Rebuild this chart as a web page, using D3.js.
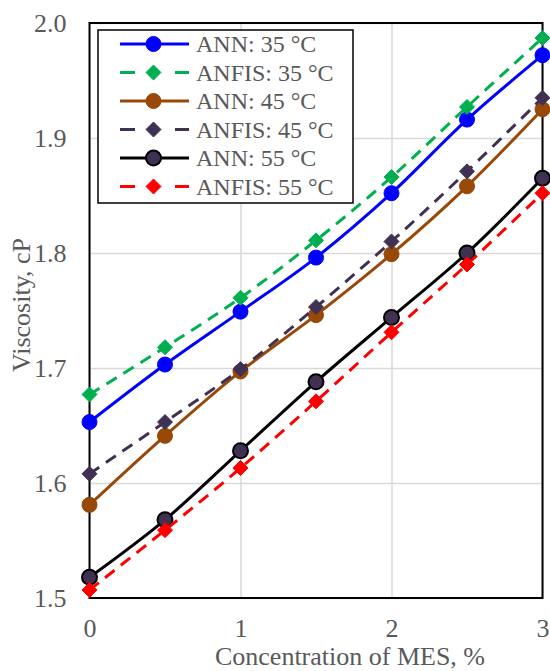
<!DOCTYPE html>
<html>
<head>
<meta charset="utf-8">
<script src="https://cdn.jsdelivr.net/npm/d3@7"></script>
<style>
  body { margin: 0; background: #fff; }
  svg text { font-family: "Liberation Serif", "Times New Roman", serif; fill: #595959; }
</style>
</head>
<body>
<div id="chart"></div>
<script>
// Viscosity vs MES concentration
var concMES = [0, 0.5, 1, 1.5, 2, 2.5, 3];
var ann35 = [1.653, 1.703, 1.749, 1.796, 1.852, 1.916, 1.972];
var anfis35 = [1.677, 1.718, 1.761, 1.811, 1.866, 1.927, 1.987];
var ann45 = [1.581, 1.641, 1.697, 1.746, 1.799, 1.858, 1.925];
var anfis45 = [1.608, 1.653, 1.699, 1.753, 1.810, 1.871, 1.935];
var ann55 = [1.518, 1.568, 1.628, 1.688, 1.744, 1.800, 1.865];
var anfis55 = [1.507, 1.559, 1.613, 1.671, 1.731, 1.790, 1.852];
var seriesNames = ["ANN: 35 °C", "ANFIS: 35 °C", "ANN: 45 °C", "ANFIS: 45 °C", "ANN: 55 °C", "ANFIS: 55 °C"];
var xTicks = [0, 1, 2, 3];
var yTicks = [1.5, 1.6, 1.7, 1.8, 1.9, 2.0];

var width = 550;
var height = 671;
// plot area edges (avoid "top", it is window.top)
var plotLeft = 89.5, plotRight = 542.5, plotTop = 23, plotBottom = 598;

var svg = d3.select("#chart")
  .append("svg")
  .attr("width", width)
  .attr("height", height);

var xScale = d3.scaleLinear().domain([0, 3]).range([plotLeft, plotRight]);
var yScale = d3.scaleLinear().domain([1.5, 2.0]).range([plotBottom, plotTop]);

// Gridlines
svg.append("g")
  .attr("transform", "translate(0," + plotBottom + ")")
  .call(d3.axisBottom(xScale).tickValues(xTicks).tickSize(-(plotBottom - plotTop)).tickFormat(""))
  .call(function(g) {
    g.select(".domain").remove();
    g.selectAll("line").attr("stroke", "#d9d9d9").attr("stroke-width", 1.5);
  });
svg.append("g")
  .attr("transform", "translate(" + plotLeft + ",0)")
  .call(d3.axisLeft(yScale).tickValues(yTicks).tickSize(-(plotRight - plotLeft)).tickFormat(""))
  .call(function(g) {
    g.select(".domain").remove();
    g.selectAll("line").attr("stroke", "#d9d9d9").attr("stroke-width", 1.5);
  });

// Plot border
svg.append("rect")
  .attr("x", plotLeft)
  .attr("y", plotTop)
  .attr("width", plotRight - plotLeft)
  .attr("height", plotBottom - plotTop)
  .attr("fill", "none")
  .attr("stroke", "#000")
  .attr("stroke-width", 2);

// Tick labels
svg.append("g")
  .attr("transform", "translate(0," + plotBottom + ")")
  .call(d3.axisBottom(xScale).tickValues(xTicks).tickSize(0).tickPadding(21).tickFormat(d3.format("d")))
  .call(function(g) {
    g.select(".domain").remove();
    g.selectAll("text").attr("font-size", 26).attr("fill", "#595959")
      .attr("font-family", "Liberation Serif, Times New Roman, serif");
  });
svg.append("g")
  .attr("transform", "translate(" + plotLeft + ",0)")
  .call(d3.axisLeft(yScale).tickValues(yTicks).tickSize(0).tickPadding(23).tickFormat(d3.format(".1f")))
  .call(function(g) {
    g.select(".domain").remove();
    g.selectAll("text").attr("font-size", 26).attr("fill", "#595959")
      .attr("font-family", "Liberation Serif, Times New Roman, serif");
  });

// Axis titles
svg.append("text")
  .attr("x", 350)
  .attr("y", 665)
  .attr("text-anchor", "middle")
  .attr("font-size", 26)
  .text("Concentration of MES, %");
svg.append("text")
  .attr("transform", "translate(30,305)rotate(-90)")
  .attr("text-anchor", "middle")
  .attr("font-size", 26)
  .text("Viscosity, cP");

// Series styles
var series = [
  { name: seriesNames[0], values: ann35, color: "#0000ff", dash: null, marker: "circle", fill: "#0000ff", edge: "#0000ff" },
  { name: seriesNames[1], values: anfis35, color: "#00b050", dash: "12,8", marker: "diamond", fill: "#00b050", edge: "#00b050" },
  { name: seriesNames[2], values: ann45, color: "#984807", dash: null, marker: "circle", fill: "#984807", edge: "#984807" },
  { name: seriesNames[3], values: anfis45, color: "#403152", dash: "12,8", marker: "diamond", fill: "#403152", edge: "#403152" },
  { name: seriesNames[4], values: ann55, color: "#000000", dash: null, marker: "circle", fill: "#403152", edge: "#000000" },
  { name: seriesNames[5], values: anfis55, color: "#ff0000", dash: "12,8", marker: "diamond", fill: "#ff0000", edge: "#ff0000" }
];

var line = d3.line()
  .x(function(d, i) { return xScale(concMES[i]); })
  .y(function(d) { return yScale(d); })
  .curve(d3.curveCatmullRom);

function drawMarker(g, s, cx, cy) {
  if (s.marker === "circle") {
    g.append("circle")
      .attr("cx", cx).attr("cy", cy).attr("r", 7.5)
      .attr("fill", s.fill)
      .attr("stroke", s.edge)
      .attr("stroke-width", s.edge === "#000000" ? 2 : 1);
  } else {
    var r = 7.5;
    g.append("path")
      .attr("d", "M" + cx + "," + (cy - r) + "L" + (cx + r) + "," + cy + "L" + cx + "," + (cy + r) + "L" + (cx - r) + "," + cy + "Z")
      .attr("fill", s.fill)
      .attr("stroke", s.edge)
      .attr("stroke-width", 1);
  }
}

series.forEach(function(s) {
  var g = svg.append("g");
  g.append("path")
    .attr("d", line(s.values))
    .attr("fill", "none")
    .attr("stroke", s.color)
    .attr("stroke-width", 3)
    .attr("stroke-dasharray", s.dash);
  s.values.forEach(function(v, i) {
    drawMarker(g, s, xScale(concMES[i]), yScale(v));
  });
});

// Legend
var legend = svg.append("g");
legend.append("rect")
  .attr("x", 98)
  .attr("y", 30)
  .attr("width", 255)
  .attr("height", 173)
  .attr("fill", "#fff")
  .attr("stroke", "#000")
  .attr("stroke-width", 1.5);

series.forEach(function(s, i) {
  var y = 44 + i * 28.5;
  var row = legend.append("g");
  if (s.dash) {
    row.append("line").attr("x1", 120).attr("x2", 135).attr("y1", y).attr("y2", y)
      .attr("stroke", s.color).attr("stroke-width", 3);
    row.append("line").attr("x1", 175).attr("x2", 189).attr("y1", y).attr("y2", y)
      .attr("stroke", s.color).attr("stroke-width", 3);
  } else {
    row.append("line").attr("x1", 120).attr("x2", 189).attr("y1", y).attr("y2", y)
      .attr("stroke", s.color).attr("stroke-width", 3);
  }
  drawMarker(row, s, 153.5, y);
  row.append("text")
    .attr("x", 196)
    .attr("y", y + 8)
    .attr("font-size", 24)
    .text(s.name);
});
</script>
</body>
</html>
